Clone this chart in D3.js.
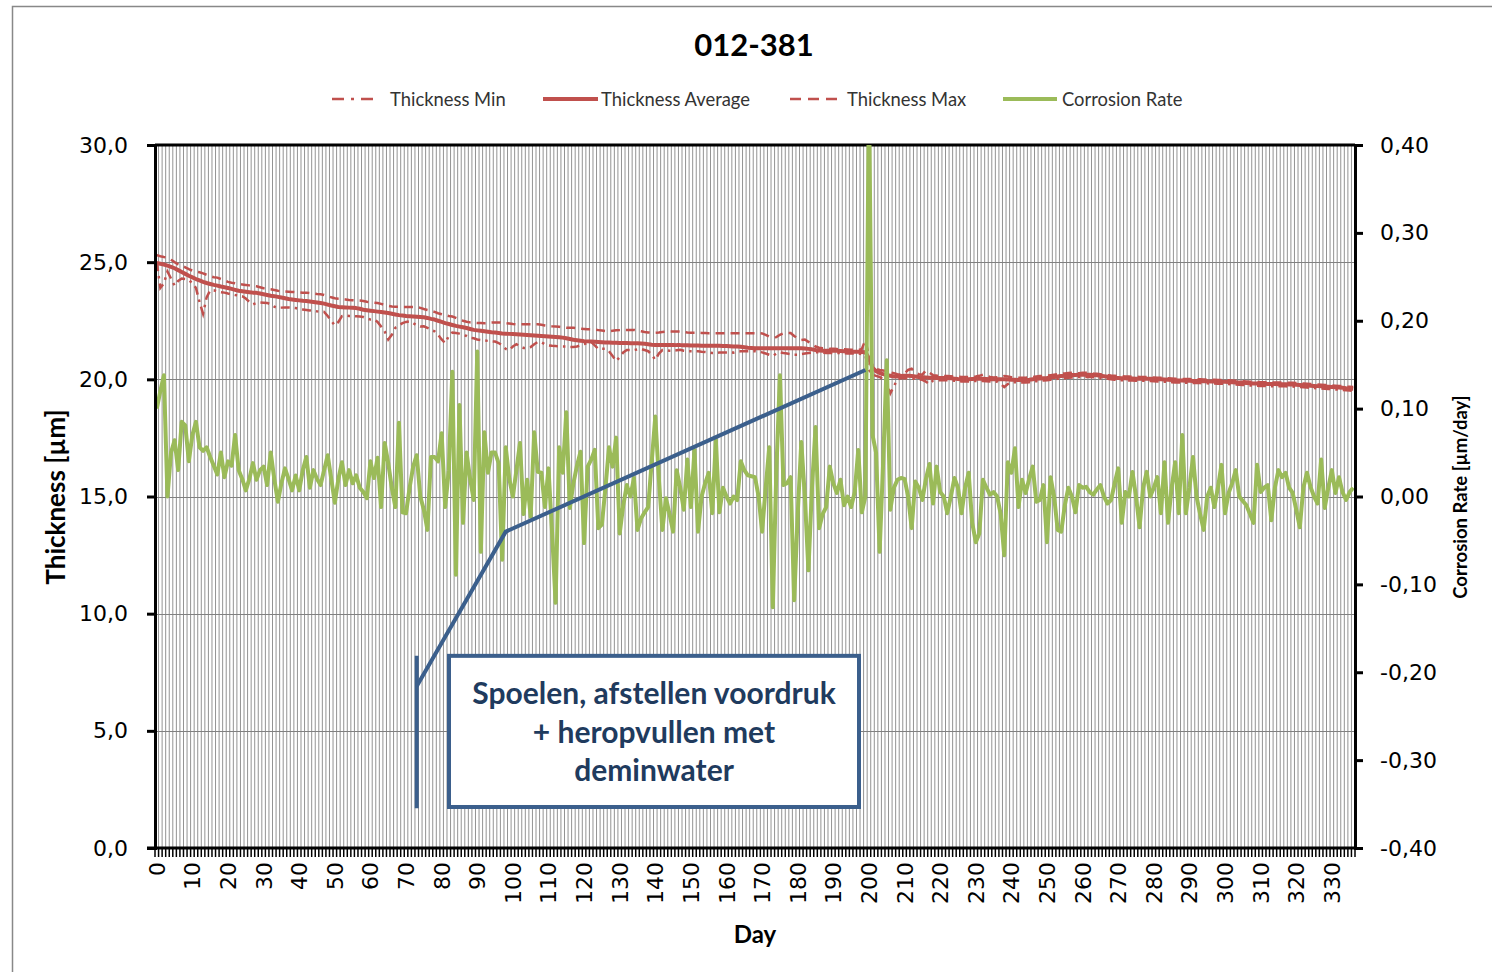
<!DOCTYPE html>
<html>
<head>
<meta charset="utf-8">
<script src="https://cdn.jsdelivr.net/npm/d3@7"></script>
<style>
  body { margin: 0; background: #fff; }
  svg { display: block; }
</style>
</head>
<body>
<div id="chart"></div>
<script>
const width = 1492
const height = 972

// ---- data ----
const chartTitle = "012-381"
const seriesNames = ["Thickness Min", "Thickness Average", "Thickness Max", "Corrosion Rate"]
const dayLabels = [0,10,20,30,40,50,60,70,80,90,100,110,120,130,140,150,160,170,180,190,200,210,220,230,240,250,260,270,280,290,300,310,320,330]
const thicknessTicks = [0,5,10,15,20,25,30]
const rateTicks = [-0.4,-0.3,-0.2,-0.1,0,0.1,0.2,0.3,0.4]

const thicknessAvg = [
24.97,24.93,24.90,24.85,24.80,24.74,24.66,24.58,24.50,24.42,
24.35,24.28,24.22,24.16,24.11,24.07,24.03,24.00,23.96,23.93,
23.90,23.86,23.82,23.78,23.76,23.74,23.72,23.70,23.69,23.66,
23.63,23.60,23.57,23.55,23.52,23.49,23.46,23.43,23.41,23.39,
23.37,23.35,23.34,23.32,23.30,23.28,23.26,23.23,23.19,23.15,
23.12,23.09,23.08,23.07,23.06,23.05,23.04,23.01,22.97,22.95,
22.93,22.91,22.89,22.87,22.85,22.83,22.80,22.77,22.74,22.72,
22.70,22.69,22.68,22.67,22.66,22.65,22.62,22.58,22.55,22.50,
22.45,22.40,22.36,22.32,22.28,22.25,22.22,22.19,22.15,22.11,
22.09,22.07,22.05,22.03,22.01,22.00,21.98,21.96,21.95,21.94,
21.93,21.92,21.91,21.90,21.89,21.88,21.87,21.86,21.85,21.84,
21.83,21.82,21.81,21.80,21.78,21.75,21.72,21.69,21.67,21.65,
21.63,21.62,21.61,21.60,21.59,21.58,21.57,21.57,21.56,21.56,
21.55,21.55,21.55,21.54,21.54,21.54,21.53,21.52,21.50,21.48,
21.47,21.47,21.47,21.47,21.47,21.47,21.46,21.46,21.45,21.45,
21.44,21.44,21.44,21.43,21.43,21.43,21.43,21.43,21.43,21.42,
21.42,21.41,21.40,21.40,21.39,21.37,21.35,21.34,21.33,21.33,
21.33,21.33,21.33,21.33,21.33,21.33,21.33,21.33,21.33,21.33,
21.33,21.33,21.32,21.30,21.28,21.25,21.23,21.22,21.22,21.22,
21.22,21.22,21.21,21.20,21.19,21.18,21.18,21.18,21.17,21.16,
20.90,20.50,20.35,20.27,20.22,20.18,20.15,20.12,20.12,20.14,
20.15,20.15,20.14,20.12,20.10,20.09,20.08,20.07,20.07,20.06,
20.06,20.06,20.06,20.05,20.03,20.01,20.00,20.00,20.00,20.01,
20.02,20.02,20.02,20.01,20.00,20.00,20.00,20.00,20.00,19.99,
19.98,19.98,19.97,19.97,19.97,19.98,20.00,20.02,20.04,20.05,
20.06,20.08,20.10,20.12,20.14,20.15,20.17,20.18,20.19,20.20,
20.20,20.20,20.20,20.19,20.17,20.15,20.13,20.11,20.09,20.07,
20.06,20.05,20.05,20.04,20.04,20.03,20.03,20.03,20.03,20.02,
20.01,20.00,20.00,19.99,19.98,19.97,19.96,19.95,19.95,19.94,
19.94,19.93,19.93,19.93,19.92,19.92,19.91,19.91,19.90,19.90,
19.90,19.89,19.88,19.87,19.86,19.85,19.84,19.83,19.82,19.82,
19.81,19.81,19.80,19.80,19.80,19.79,19.79,19.79,19.78,19.78,
19.77,19.76,19.75,19.74,19.73,19.72,19.71,19.70,19.69,19.68,
19.67,19.66,19.65,19.64,19.62,19.61,19.60]

const thicknessMax = [
25.30,25.25,25.22,25.20,25.10,25.00,24.91,24.85,24.78,24.70,
24.64,24.60,24.57,24.52,24.46,24.40,24.36,24.34,24.28,24.22,
24.16,24.12,24.10,24.07,24.05,24.03,24.01,23.99,23.97,23.93,
23.89,23.86,23.84,23.81,23.78,23.76,23.75,23.74,23.73,23.72,
23.71,23.70,23.70,23.68,23.66,23.64,23.63,23.60,23.55,23.50,
23.46,23.44,23.43,23.41,23.39,23.38,23.37,23.36,23.34,23.31,
23.29,23.27,23.26,23.22,23.18,23.14,23.11,23.10,23.10,23.09,
23.09,23.09,23.09,23.08,23.05,23.00,22.96,22.93,22.88,22.82,
22.78,22.74,22.70,22.68,22.62,22.55,22.50,22.46,22.43,22.41,
22.40,22.40,22.39,22.40,22.42,22.43,22.43,22.42,22.40,22.38,
22.36,22.35,22.35,22.35,22.35,22.35,22.35,22.35,22.33,22.30,
22.28,22.26,22.25,22.24,22.22,22.20,22.20,22.20,22.18,22.16,
22.15,22.14,22.14,22.12,22.10,22.08,22.06,22.05,22.07,22.09,
22.10,22.11,22.11,22.11,22.11,22.08,22.05,22.02,22.00,21.99,
21.99,22.00,22.02,22.03,22.04,22.04,22.04,22.04,22.02,22.00,
21.99,21.99,21.99,21.98,21.98,21.97,21.97,21.97,21.97,21.97,
21.97,21.97,21.97,21.97,21.97,21.97,21.97,21.97,21.97,21.97,
21.96,21.90,21.82,21.78,21.80,21.90,21.97,21.98,21.98,21.85,
21.75,21.68,21.70,21.60,21.50,21.40,21.35,21.33,21.32,21.30,
21.30,21.29,21.28,21.28,21.27,21.26,21.26,21.25,21.30,21.68,
21.00,20.60,20.45,20.40,20.38,20.34,20.30,20.26,20.22,20.20,
20.25,20.40,20.45,20.30,20.22,20.20,20.38,20.28,20.18,20.16,
20.15,20.14,20.14,20.13,20.12,20.11,20.10,20.10,20.10,20.11,
20.12,20.15,20.20,20.16,20.10,20.08,20.09,20.10,20.14,20.12,
20.09,20.08,20.07,20.07,20.07,20.08,20.10,20.12,20.14,20.15,
20.16,20.18,20.20,20.22,20.24,20.25,20.27,20.28,20.27,20.26,
20.28,20.28,20.27,20.25,20.24,20.22,20.20,20.18,20.16,20.15,
20.14,20.13,20.12,20.12,20.11,20.11,20.10,20.10,20.10,20.09,
20.08,20.07,20.07,20.06,20.05,20.04,20.03,20.02,20.02,20.01,
20.01,20.00,20.00,20.00,19.99,19.99,19.98,19.98,19.97,19.97,
19.97,19.96,19.95,19.94,19.93,19.92,19.91,19.90,19.89,19.89,
19.88,19.88,19.87,19.87,19.87,19.86,19.86,19.86,19.85,19.85,
19.84,19.83,19.82,19.81,19.80,19.79,19.78,19.77,19.76,19.75,
19.74,19.73,19.72,19.71,19.69,19.68,19.67]

const thicknessMin = [
25.00,23.90,24.10,24.60,24.30,24.00,24.20,24.30,24.28,24.24,
24.10,23.90,23.30,22.80,23.50,23.80,23.80,23.75,23.72,23.70,
23.66,23.63,23.60,23.58,23.55,23.45,23.30,23.20,23.26,23.28,
23.27,23.26,23.20,23.10,23.05,23.06,23.07,23.07,23.06,23.04,
23.00,22.98,22.96,22.94,22.92,22.90,22.89,22.88,22.70,22.50,
22.30,22.45,22.70,22.72,22.70,22.70,22.69,22.68,22.66,22.60,
22.55,22.56,22.45,22.25,22.05,21.70,21.90,22.20,22.30,22.40,
22.45,22.47,22.40,22.30,22.25,22.26,22.20,22.10,22.05,21.90,
21.70,21.55,21.85,22.00,21.98,21.95,21.90,21.85,21.77,21.75,
21.70,21.68,21.66,21.64,21.62,21.61,21.55,21.45,21.30,21.25,
21.40,21.50,21.40,21.34,21.34,21.38,21.50,21.60,21.58,21.50,
21.45,21.43,21.42,21.40,21.40,21.40,21.38,21.38,21.40,21.45,
21.50,21.55,21.60,21.45,21.30,21.30,21.30,21.20,21.00,20.78,
20.95,21.15,21.25,21.25,21.25,21.28,21.30,21.25,21.20,21.05,
20.83,21.10,21.25,21.25,21.22,21.22,21.24,21.26,21.22,21.20,
21.20,21.20,21.20,21.18,21.17,21.15,21.12,21.12,21.14,21.15,
21.15,21.15,21.14,21.18,21.20,21.20,21.20,21.20,21.20,21.18,
21.15,21.10,21.05,21.00,21.10,21.15,21.12,21.10,21.08,21.05,
21.05,21.08,21.10,21.12,21.14,21.15,21.16,21.14,21.12,21.12,
21.12,21.12,21.12,21.11,21.10,21.10,21.10,21.10,21.08,21.00,
20.40,20.20,20.15,20.10,20.00,19.80,19.40,19.70,20.00,20.05,
20.05,20.05,20.04,20.02,20.00,19.98,19.90,19.80,19.95,19.96,
19.96,19.96,19.96,19.95,19.94,19.92,19.91,19.91,19.91,19.92,
19.93,19.93,19.93,19.92,19.91,19.91,19.90,19.80,19.67,19.80,
19.88,19.88,19.87,19.87,19.87,19.88,19.90,19.92,19.94,19.95,
19.96,19.98,20.00,20.02,20.04,20.05,20.07,20.08,20.09,20.10,
20.10,20.10,20.10,20.09,20.08,20.06,20.04,20.02,20.00,19.98,
19.97,19.96,19.96,19.95,19.95,19.94,19.94,19.94,19.94,19.93,
19.92,19.91,19.91,19.90,19.89,19.88,19.87,19.86,19.86,19.85,
19.85,19.84,19.84,19.84,19.83,19.83,19.82,19.82,19.81,19.81,
19.81,19.80,19.79,19.78,19.77,19.76,19.75,19.74,19.73,19.73,
19.72,19.72,19.71,19.71,19.71,19.70,19.70,19.70,19.69,19.69,
19.68,19.67,19.66,19.65,19.64,19.63,19.62,19.61,19.60,19.59,
19.58,19.57,19.56,19.55,19.53,19.52,19.51]

const corrosionRate = [
0.100,0.120,0.138,0.000,0.050,0.064,0.030,0.085,0.081,0.040,
0.070,0.085,0.056,0.052,0.056,0.045,0.035,0.025,0.050,0.022,
0.040,0.035,0.070,0.030,0.020,0.007,0.020,0.038,0.019,0.030,
0.034,0.013,0.050,0.020,-0.006,0.015,0.032,0.020,0.007,0.024,
0.007,0.030,0.045,0.010,0.030,0.020,0.013,0.030,0.047,0.020,
-0.007,0.020,0.039,0.013,0.030,0.015,0.024,0.010,0.005,-0.002,
0.040,0.021,0.044,-0.012,0.061,0.038,0.010,-0.012,0.084,-0.018,
-0.019,0.010,0.034,0.047,0.000,-0.015,-0.038,0.045,0.045,0.040,
0.072,-0.012,0.030,0.142,-0.089,0.104,-0.030,0.050,0.020,-0.004,
0.165,-0.063,0.073,0.027,0.050,0.050,0.038,-0.072,0.056,0.020,
0.000,0.030,0.061,-0.020,0.019,-0.023,0.073,0.028,0.027,-0.012,
0.032,-0.040,-0.121,0.056,0.027,0.096,-0.013,0.015,0.035,0.051,
-0.053,0.034,0.042,0.053,-0.036,-0.032,0.010,0.056,0.034,0.067,
-0.042,-0.010,0.013,0.000,0.021,-0.038,-0.025,-0.018,-0.012,0.040,
0.091,0.020,-0.038,-0.002,-0.020,-0.040,0.030,0.010,-0.015,0.042,
-0.012,0.053,-0.040,0.000,0.015,0.027,-0.019,0.064,-0.018,0.010,
0.000,-0.008,0.000,-0.004,0.040,0.030,0.024,0.023,0.022,0.000,
-0.040,0.010,0.056,-0.126,0.030,0.138,0.013,0.015,0.022,-0.118,
-0.020,0.062,0.000,-0.084,0.010,0.079,-0.036,-0.020,-0.012,0.034,
0.015,0.004,0.019,-0.010,0.000,-0.012,0.005,0.053,-0.018,0.000,
0.460,0.070,0.050,-0.063,0.040,0.155,-0.015,0.010,0.019,0.021,
0.020,0.000,-0.036,0.017,0.010,-0.004,0.020,0.037,-0.008,0.034,
0.005,0.000,-0.019,0.000,0.021,0.010,-0.019,0.010,0.027,-0.030,
-0.052,-0.042,0.019,0.010,0.002,0.005,0.000,-0.020,-0.067,0.039,
0.027,0.055,-0.012,0.019,0.004,0.020,0.034,-0.006,-0.004,0.013,
-0.052,0.022,0.000,-0.038,-0.040,-0.010,0.010,0.000,-0.018,0.013,
0.010,0.011,0.005,0.002,0.008,0.013,0.000,-0.008,-0.004,0.015,
0.032,-0.030,0.005,0.000,0.028,0.000,-0.035,0.010,0.028,0.000,
0.010,0.022,-0.019,0.039,-0.030,0.010,0.039,-0.019,0.070,-0.019,
0.010,0.045,0.000,-0.020,-0.038,0.000,0.010,-0.012,0.010,0.036,
-0.019,0.004,0.015,0.030,0.000,-0.005,-0.010,-0.020,-0.030,0.036,
0.005,0.010,0.013,-0.027,0.010,0.030,0.022,0.027,0.010,0.004,
-0.015,-0.035,0.010,0.027,0.011,0.000,-0.008,0.042,-0.013,0.010,
0.030,0.004,0.022,0.005,-0.004,0.005,0.010]

const days = d3.range(corrosionRate.length)

const noteLines = ["Spoelen, afstellen voordruk", "+ heropvullen met", "deminwater"]

// ---- layout ----
const plot = { left: 155, right: 1355, top: 145, bottom: 848 }
const red = "#C0504D", green = "#9BBB59", navy = "#3B5F8C"
const tickFont = "'DejaVu Sans', sans-serif"
const labelFont = "Lato, sans-serif"

// comma decimals, plain hyphen for negatives
const nl = d3.formatLocale({ decimal: ",", thousands: ".", grouping: [3], currency: ["", ""], minus: "-" })
const fmtLeft = nl.format(".1f")
const fmtRight = nl.format(".2f")

let svg = d3.select("#chart")
  .append("svg")
  .attr("width", width)
  .attr("height", height)

// outer chart border
svg.append("rect")
  .attr("x", 12.5).attr("y", 6.5)
  .attr("width", width + 20).attr("height", height + 20)
  .attr("fill", "#fff")
  .attr("stroke", "#888").attr("stroke-width", 1.5)

let x = d3.scaleBand()
  .domain(days)
  .range([plot.left, plot.right])
  .padding(0)
const bw = x.bandwidth()
const cx = d => x(d) + bw / 2

let yL = d3.scaleLinear().domain([0, 30]).range([plot.bottom, plot.top])
let yR = d3.scaleLinear().domain([-0.4, 0.4]).range([plot.bottom, plot.top])

svg.append("clipPath").attr("id", "clip")
  .append("rect")
  .attr("x", plot.left).attr("y", plot.top)
  .attr("width", plot.right - plot.left).attr("height", plot.bottom - plot.top)

// vertical gridlines (one per day)
let grid = svg.append("g")
grid.selectAll("line.vg")
  .data(days.slice(1))
  .enter()
  .append("line")
  .attr("x1", d => x(d)).attr("x2", d => x(d))
  .attr("y1", plot.top).attr("y2", plot.bottom)
  .attr("stroke", "#939393")
  .attr("stroke-width", 1)

// horizontal gridlines
grid.selectAll("line.hg")
  .data(thicknessTicks.slice(1, -1))
  .enter()
  .append("line")
  .attr("x1", plot.left).attr("x2", plot.right)
  .attr("y1", d => Math.round(yL(d)) + 0.5).attr("y2", d => Math.round(yL(d)) + 0.5)
  .attr("stroke", "#808080")
  .attr("stroke-width", 1)

svg.append("line")
  .attr("x1", plot.left).attr("x2", plot.right)
  .attr("y1", plot.top).attr("y2", plot.top)
  .attr("stroke", "#000").attr("stroke-width", 3)

// ---- series ----
let lines = svg.append("g").attr("clip-path", "url(#clip)")

const lineL = d3.line().x((d, i) => cx(i)).y(d => yL(d))
const lineR = d3.line().x((d, i) => cx(i)).y(d => yR(d))

lines.append("path")
  .datum(thicknessMin)
  .attr("d", lineL)
  .attr("fill", "none").attr("stroke", red)
  .attr("stroke-width", 2.5)
  .attr("stroke-dasharray", "9,5,2.5,5")

lines.append("path")
  .datum(thicknessAvg)
  .attr("d", lineL)
  .attr("fill", "none").attr("stroke", red)
  .attr("stroke-width", 4)
  .attr("stroke-linejoin", "round")

lines.append("path")
  .datum(thicknessMax)
  .attr("d", lineL)
  .attr("fill", "none").attr("stroke", red)
  .attr("stroke-width", 2.5)
  .attr("stroke-dasharray", "9,6")

lines.append("path")
  .datum(corrosionRate)
  .attr("d", lineR)
  .attr("fill", "none").attr("stroke", green)
  .attr("stroke-width", 4)
  .attr("stroke-linejoin", "round")

// ---- axes ----
let axL = svg.append("g")
  .attr("transform", `translate(${plot.left},0)`)
  .call(d3.axisLeft(yL).tickValues(thicknessTicks).tickSize(8).tickPadding(19).tickFormat(fmtLeft))
axL.select(".domain").attr("stroke-width", 3)
axL.selectAll(".tick line").attr("stroke-width", 3)
axL.selectAll(".tick text").attr("font-family", tickFont).attr("font-size", 22).attr("fill", "#000")

let axR = svg.append("g")
  .attr("transform", `translate(${plot.right},0)`)
  .call(d3.axisRight(yR).tickValues(rateTicks).tickSize(8).tickPadding(17).tickFormat(fmtRight))
axR.select(".domain").attr("stroke-width", 3)
axR.selectAll(".tick line").attr("stroke-width", 3)
axR.selectAll(".tick text").attr("font-family", tickFont).attr("font-size", 22).attr("fill", "#000")

// bottom axis: tick at every day boundary, label every 10 days
let axB = svg.append("g")
axB.append("line")
  .attr("x1", plot.left - 8).attr("x2", plot.right)
  .attr("y1", plot.bottom).attr("y2", plot.bottom)
  .attr("stroke", "#000").attr("stroke-width", 3)
axB.selectAll("line.tk")
  .data(days.concat([days.length]))
  .enter()
  .append("line")
  .attr("x1", d => plot.left + d * bw).attr("x2", d => plot.left + d * bw)
  .attr("y1", plot.bottom).attr("y2", plot.bottom + 9)
  .attr("stroke", "#000").attr("stroke-width", 1.5)
axB.selectAll("text")
  .data(dayLabels)
  .enter()
  .append("text")
  .attr("transform", d => `translate(${cx(d) + 8},${plot.bottom + 14}) rotate(-90)`)
  .attr("text-anchor", "end")
  .attr("font-family", tickFont)
  .attr("font-size", 22)
  .text(d => d)

// ---- titles ----
svg.append("text")
  .attr("x", 754).attr("y", 56)
  .attr("text-anchor", "middle")
  .attr("font-family", labelFont)
  .attr("font-weight", "bold")
  .attr("font-size", 31)
  .text(chartTitle)

svg.append("text")
  .attr("transform", "translate(65,497) rotate(-90)")
  .attr("text-anchor", "middle")
  .attr("font-family", labelFont)
  .attr("font-weight", "bold")
  .attr("font-size", 26)
  .text("Thickness [µm]")

svg.append("text")
  .attr("transform", "translate(1467,497) rotate(-90)")
  .attr("text-anchor", "middle")
  .attr("font-family", labelFont)
  .attr("font-weight", "bold")
  .attr("font-size", 18.5)
  .text("Corrosion Rate [µm/day]")

svg.append("text")
  .attr("x", 755).attr("y", 943)
  .attr("text-anchor", "middle")
  .attr("font-family", labelFont)
  .attr("font-weight", "bold")
  .attr("font-size", 24)
  .text("Day")

// ---- legend ----
const legendItems = [
  { name: seriesNames[0], x: 332, w: 46, color: red, sw: 2.5, dash: "12,7,3,7", tx: 390 },
  { name: seriesNames[1], x: 543, w: 55, color: red, sw: 4, dash: null, tx: 601 },
  { name: seriesNames[2], x: 790, w: 52, color: red, sw: 2.5, dash: "11,7", tx: 847 },
  { name: seriesNames[3], x: 1003, w: 54, color: green, sw: 4, dash: null, tx: 1062 }
]
let legend = svg.append("g").attr("id", "legend")
legendItems.forEach(it => {
  legend.append("line")
    .attr("x1", it.x).attr("x2", it.x + it.w)
    .attr("y1", 99).attr("y2", 99)
    .attr("stroke", it.color).attr("stroke-width", it.sw)
    .attr("stroke-dasharray", it.dash)
  legend.append("text")
    .attr("x", it.tx).attr("y", 105.5)
    .attr("font-family", labelFont)
    .attr("font-size", 18.4)
    .attr("fill", "#333")
    .text(it.name)
})

// ---- callout ----
let note = svg.append("g")
const barX = cx(73)
note.append("line")
  .attr("x1", barX).attr("x2", barX)
  .attr("y1", yL(8.2)).attr("y2", yL(1.7))
  .attr("stroke", navy).attr("stroke-width", 4)
note.append("path")
  .attr("d", d3.line()([[barX, yL(6.9)], [cx(98), yL(13.5)], [cx(199), yL(20.4)]]))
  .attr("fill", "none").attr("stroke", navy).attr("stroke-width", 4)
const bx0 = 449, bx1 = 859, by0 = yL(8.2), by1 = yL(1.75)
note.append("rect")
  .attr("x", bx0).attr("y", by0)
  .attr("width", bx1 - bx0).attr("height", by1 - by0)
  .attr("fill", "#fff").attr("stroke", navy).attr("stroke-width", 4)
note.selectAll("text")
  .data(noteLines)
  .enter()
  .append("text")
  .attr("x", (bx0 + bx1) / 2)
  .attr("y", (d, i) => 704 + i * 38.5)
  .attr("text-anchor", "middle")
  .attr("font-family", labelFont)
  .attr("font-weight", "bold")
  .attr("font-size", 30)
  .attr("fill", "#1F3B5E")
  .text(d => d)
</script>
</body>
</html>
